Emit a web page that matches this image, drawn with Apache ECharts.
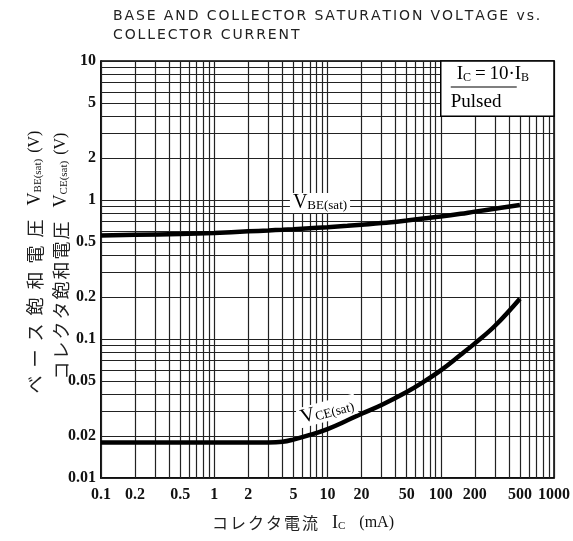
<!DOCTYPE html>
<html><head><meta charset="utf-8">
<script src="https://cdn.jsdelivr.net/npm/echarts@6/dist/echarts.min.js"></script>
<style>html,body{margin:0;padding:0;background:#fff}#c{width:573px;height:541px}</style>
</head><body><div id="c"></div>
<script>
// tick labels
const xLabels = [0.1, 0.2, 0.5, 1, 2, 5, 10, 20, 50, 100, 200, 500, 1000];
const yLabels = [0.01, 0.02, 0.05, 0.1, 0.2, 0.5, 1, 2, 5, 10];
// collector current (mA)
const ic = [0.1, 0.2, 0.5, 1, 2, 3, 4, 5, 7, 10, 15, 20, 30, 50, 70, 100, 150, 200, 300, 500];
// V_BE(sat) (V)
const vbe = [0.556, 0.562, 0.57, 0.58, 0.595, 0.604, 0.611, 0.617, 0.627, 0.637, 0.652, 0.664, 0.682, 0.712, 0.735, 0.76, 0.795, 0.825, 0.865, 0.92];
// V_CE(sat) (V)
const vce = [0.018, 0.018, 0.018, 0.018, 0.018, 0.018, 0.0182, 0.0189, 0.0204, 0.0225, 0.026, 0.029, 0.0335, 0.0415, 0.049, 0.0595, 0.077, 0.093, 0.124, 0.195];
// condition box corners (mA, V)
const boxFrom = [100, 4];
const boxTo = [1000, 10];

// grid lines at 1..9 of each decade
function decadeLines(lo, hi) {
  const out = [];
  for (let d = lo; d < hi; d++) {
    for (let m = 1; m <= 9; m++) out.push(+(m * Math.pow(10, d)).toPrecision(3));
  }
  out.push(+Math.pow(10, hi).toPrecision(3));
  return out;
}
const xGrid = decadeLines(-1, 3);
const yGrid = decadeLines(-2, 1);

const serif = '"Liberation Serif","DejaVu Serif",serif';
const jp = '"Noto Sans CJK JP"';
const chart = echarts.init(document.getElementById('c'), null, {renderer: 'canvas'});
const pairs = (xs, ys) => xs.map((x, i) => [x, ys[i]]);
// letter-spaced text as rich fragments
const spaced = (s, tok) => s.split('').map(ch => '{' + tok + '|' + (ch === ' ' ? '\u00a0' : ch) + '}').join('{sp|}');

const axisNameRich = (jSize, sp) => ({
  j: {fontFamily: jp, fontSize: jSize, fill: '#222'},
  sp: {width: sp},
  g: {width: 6},
  gl: {width: 14},
  v: {fontFamily: serif, fontSize: 18, fill: '#111'},
  s: {fontFamily: serif, fontSize: 11, fill: '#111', padding: [6, 0, 0, 0]},
  p: {fontFamily: serif, fontSize: 16, fill: '#111'}
});

const option = {
  animation: false,
  backgroundColor: '#fff',
  grid: {left: 101, right: 18, top: 61, bottom: 63, show: true, borderColor: '#000', borderWidth: 1.5, backgroundColor: 'transparent'},
  xAxis: {
    type: 'log', min: 0.1, max: 1000, logBase: 10,
    axisLine: {show: true, lineStyle: {color: '#000', width: 1.5}},
    axisTick: {show: false},
    splitLine: {show: false},
    axisLabel: {customValues: xLabels, formatter: v => String(v), color: '#111', fontFamily: serif, fontSize: 16, fontWeight: 'bold', margin: 9}
  },
  yAxis: {
    type: 'log', min: 0.01, max: 10, logBase: 10,
    axisLine: {show: true, lineStyle: {color: '#000', width: 1.5}},
    axisTick: {show: false},
    splitLine: {show: false},
    axisLabel: {customValues: yLabels, formatter: v => String(v), color: '#111', fontFamily: serif, fontSize: 16, fontWeight: 'bold', margin: 5}
  },
  series: [
    {
      type: 'line', data: [], silent: true, z: 1,
      markLine: {
        silent: true, symbol: 'none', animation: false,
        label: {show: false},
        lineStyle: {color: '#222', width: 1.2, type: 'solid'},
        data: xGrid.map(v => ({xAxis: v})).concat(yGrid.map(v => ({yAxis: v})))
      }
    },
    {name: 'VBE', type: 'line', data: pairs(ic, vbe), smooth: 0.4, symbol: 'none', z: 5, lineStyle: {color: '#000', width: 4.5}},
    {name: 'VCE', type: 'line', data: pairs(ic, vce), smooth: 0.4, symbol: 'none', z: 5, lineStyle: {color: '#000', width: 4.5}}
  ],
  graphic: [
    {type: 'text', left: 113, top: 9, z: 10, style: {text: spaced('BASE AND COLLECTOR SATURATION VOLTAGE vs.', 't') + '\n' + spaced('COLLECTOR CURRENT', 't'), rich: {t: {fontFamily: '"DejaVu Sans", sans-serif', fontSize: 14, fill: '#222', lineHeight: 19}, sp: {width: 1.9, lineHeight: 19}}}},
    // curve labels
    {type: 'text', x: 320, y: 203, z: 20, style: {text: '{v|V}{s|BE(sat)}', align: 'center', verticalAlign: 'middle', backgroundColor: '#fff', padding: [0, 3, 0, 3], rich: {v: {fontFamily: serif, fontSize: 20, fill: '#000'}, s: {fontFamily: serif, fontSize: 13, fill: '#000', padding: [6, 0, 0, 0]}}}},
    {type: 'text', x: 327, y: 411, rotation: 0.26, z: 20, style: {text: '{v|V}{s|CE(sat)}', align: 'center', verticalAlign: 'middle', backgroundColor: '#fff', padding: [0, 3, 0, 3], rich: {v: {fontFamily: serif, fontSize: 20, fill: '#000'}, s: {fontFamily: serif, fontSize: 13, fill: '#000', padding: [6, 0, 0, 0]}}}},
    // y-axis names
    {type: 'text', x: 35, y: 262, rotation: Math.PI / 2, z: 20, style: {text: spaced('ベース飽和電圧', 'j') + '{gl|}{v|V}{s|BE(sat)}{g|}{p|(V)}', align: 'center', verticalAlign: 'middle', rich: axisNameRich(18, 8)}},
    {type: 'text', x: 61, y: 256, rotation: Math.PI / 2, z: 20, style: {text: spaced('コレクタ飽和電圧', 'j') + '{gl|}{v|V}{s|CE(sat)}{g|}{p|(V)}', align: 'center', verticalAlign: 'middle', rich: axisNameRich(18, 2)}},
    // x-axis name
    {type: 'text', x: 303, y: 523, z: 20, style: {text: spaced('コレクタ電流', 'j') + '{gl|}{v|I}{s|C}{gl|}{p|(mA)}', align: 'center', verticalAlign: 'middle', rich: axisNameRich(16, 2)}}
  ]
};
chart.setOption(option);

// condition box, placed through the axes
const p0 = chart.convertToPixel({gridIndex: 0}, [boxFrom[0], boxTo[1]]);
const p1 = chart.convertToPixel({gridIndex: 0}, [boxTo[0], boxFrom[1]]);
const bx = p0[0], by = p0[1];
chart.setOption({
  graphic: [
    {id: 'box', type: 'rect', z: 15, shape: {x: p0[0], y: p0[1], width: p1[0] - p0[0], height: p1[1] - p0[1]}, style: {fill: '#fff', stroke: '#000', lineWidth: 1.5}},
    {id: 'ic', type: 'text', x: bx + 16, y: by + 13, z: 20, style: {text: '{v|I}{s|C}{v|\u2009=\u200910·I}{s|B}', verticalAlign: 'middle', rich: {v: {fontFamily: serif, fontSize: 19, fill: '#000'}, s: {fontFamily: serif, fontSize: 12, fill: '#000', padding: [7, 0, 0, 0]}}}},
    {id: 'bar', type: 'line', z: 20, shape: {x1: bx + 10, y1: by + 26, x2: bx + 76, y2: by + 26}, style: {stroke: '#000', lineWidth: 1.2}},
    {id: 'pulsed', type: 'text', x: bx + 10, y: by + 41, z: 20, style: {text: 'Pulsed', verticalAlign: 'middle', font: '19px ' + serif, fill: '#000'}}
  ]
});
</script>
</body></html>
